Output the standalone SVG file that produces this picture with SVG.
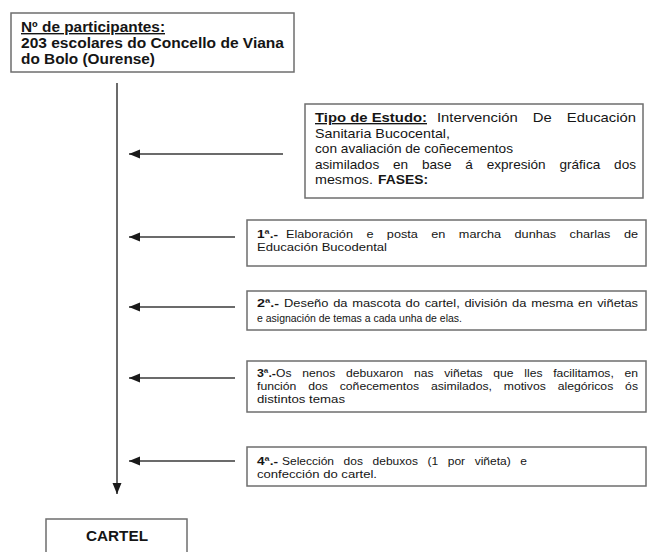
<svg xmlns="http://www.w3.org/2000/svg" width="647" height="552" viewBox="0 0 647 552">
<defs>
<style>
.box{fill:#fff;stroke:#6e6e6e;stroke-width:1.5}
.t{font-family:"Liberation Sans",Arial,sans-serif;fill:#151515}
.b{font-weight:bold}
.s12{font-size:11.5px}
.s135{font-size:13.5px}
.c{stroke:#3a3a3a;stroke-width:1.5;fill:none}
</style>
<marker id="ah" markerUnits="userSpaceOnUse" markerWidth="12" markerHeight="10" refX="11" refY="5" orient="auto">
<path d="M0,0.5 L11,5 L0,9.5 Z" fill="#1a1a1a"/>
</marker>
</defs>
<rect width="647" height="552" fill="#fff"/>

<g id="participantes">
<rect class="box" x="11" y="13" width="283" height="59"/>
<text class="t b" font-size="14" x="21" y="32" textLength="144" lengthAdjust="spacingAndGlyphs" text-decoration="underline">Nº de participantes:</text>
<text class="t b" font-size="14" x="21" y="48" textLength="263" lengthAdjust="spacingAndGlyphs">203 escolares do Concello de Viana</text>
<text class="t b" font-size="14" x="21" y="64" textLength="134" lengthAdjust="spacingAndGlyphs">do Bolo (Ourense)</text>
</g>

<g id="tipo">
<rect class="box" x="305" y="104" width="338" height="94"/>
<text class="t b s135" x="315" y="122" textLength="112" lengthAdjust="spacingAndGlyphs" text-decoration="underline">Tipo de Estudo:</text>
<text class="t s135" x="437" y="122" textLength="199" lengthAdjust="spacingAndGlyphs" word-spacing="10">Intervención De  Educación</text>
<text class="t s135" x="315" y="137.5" textLength="135" lengthAdjust="spacingAndGlyphs">Sanitaria Bucocental,</text>
<text class="t s135" x="315" y="153" textLength="198" lengthAdjust="spacingAndGlyphs">con avaliación de coñecementos</text>
<text class="t s135" x="315" y="168.5" textLength="321" lengthAdjust="spacingAndGlyphs" word-spacing="10">asimilados en base á expresión gráfica dos</text>
<text class="t s135" x="315" y="184" textLength="58" lengthAdjust="spacingAndGlyphs">mesmos.</text>
<text class="t b s135" x="378" y="184" textLength="50" lengthAdjust="spacingAndGlyphs">FASES:</text>
</g>

<g id="fase1">
<rect class="box" x="247" y="220" width="399" height="46"/>
<text class="t b s12" x="257" y="238" textLength="21" lengthAdjust="spacingAndGlyphs">1ª.-</text>
<text class="t s12" x="286" y="238" textLength="352" lengthAdjust="spacingAndGlyphs" word-spacing="9">Elaboración e posta en marcha dunhas  charlas de</text>
<text class="t s12" x="257" y="251" textLength="130" lengthAdjust="spacingAndGlyphs">Educación Bucodental</text>
</g>

<g id="fase2">
<rect class="box" x="247" y="291" width="399" height="39"/>
<text class="t b s12" x="257" y="307" textLength="22" lengthAdjust="spacingAndGlyphs">2ª.-</text>
<text class="t s12" x="284" y="307" textLength="354" lengthAdjust="spacingAndGlyphs" word-spacing="1">Deseño da mascota do cartel, división da mesma en  viñetas</text>
<text class="t s12" x="257" y="322" textLength="205" lengthAdjust="spacingAndGlyphs">e asignación  de temas a cada unha de elas.</text>
</g>

<g id="fase3">
<rect class="box" x="247" y="361" width="399" height="51"/>
<text class="t b s12" x="257" y="377" textLength="19" lengthAdjust="spacingAndGlyphs">3ª.-</text>
<text class="t s12" x="276" y="377" textLength="362" lengthAdjust="spacingAndGlyphs" word-spacing="7">Os nenos debuxaron nas viñetas que lles facilitamos, en</text>
<text class="t s12" x="257" y="390" textLength="381" lengthAdjust="spacingAndGlyphs" word-spacing="8">función dos coñecementos asimilados, motivos alegóricos ós</text>
<text class="t s12" x="257" y="403" textLength="88" lengthAdjust="spacingAndGlyphs">distintos temas</text>
</g>

<g id="fase4">
<rect class="box" x="247" y="447" width="399" height="39"/>
<text class="t b s12" x="257" y="465" textLength="21" lengthAdjust="spacingAndGlyphs">4ª.-</text>
<text class="t s12" x="282" y="465" textLength="245" lengthAdjust="spacingAndGlyphs" word-spacing="6">Selección dos debuxos (1 por viñeta) e</text>
<text class="t s12" x="257" y="478" textLength="120" lengthAdjust="spacingAndGlyphs">confección do cartel.</text>
</g>

<g id="cartel">
<rect class="box" x="46" y="519" width="141" height="45"/>
<text class="t b" font-size="15" x="117" y="541" text-anchor="middle" textLength="62" lengthAdjust="spacingAndGlyphs">CARTEL</text>
</g>

<g id="connectors">
<line class="c" x1="117" y1="83" x2="117" y2="494" marker-end="url(#ah)"/>
<line class="c" x1="283" y1="154" x2="129" y2="154" marker-end="url(#ah)"/>
<line class="c" x1="235" y1="237" x2="129" y2="237" marker-end="url(#ah)"/>
<line class="c" x1="235" y1="307" x2="129" y2="307" marker-end="url(#ah)"/>
<line class="c" x1="235" y1="378" x2="129" y2="378" marker-end="url(#ah)"/>
<line class="c" x1="235" y1="461" x2="129" y2="461" marker-end="url(#ah)"/>
</g>
</svg>
